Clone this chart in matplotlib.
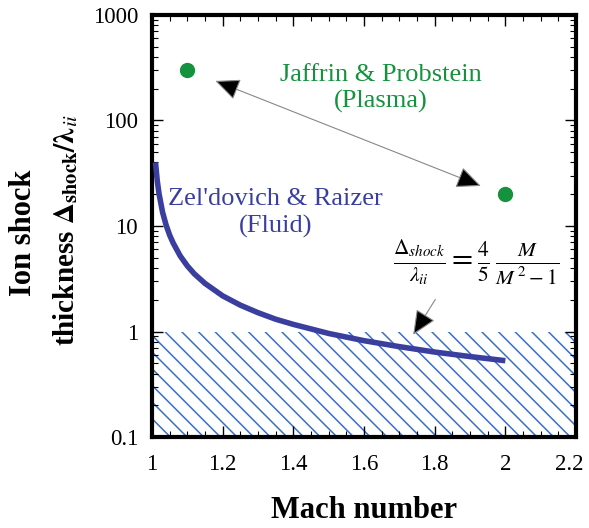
import matplotlib
matplotlib.use("Agg")
import matplotlib.pyplot as plt
import matplotlib.transforms as mtransforms
from matplotlib.patches import FancyArrowPatch
from matplotlib.ticker import MultipleLocator, LogLocator, NullFormatter, FixedLocator, FixedFormatter

plt.rcParams['font.family'] = ['Liberation Serif', 'DejaVu Serif']
plt.rcParams['mathtext.fontset'] = 'stix'
plt.rcParams['hatch.linewidth'] = 1.1

# Fluid curve (Zel'dovich & Raizer)
mach = [1.010, 1.015, 1.02, 1.03, 1.04, 1.05, 1.06, 1.08, 1.10, 1.12, 1.15, 1.20,
        1.25, 1.30, 1.35, 1.40, 1.50, 1.60, 1.70, 1.80, 1.90, 2.00]
thick = [40.0, 26.8, 20.2, 13.5, 10.2, 8.2, 6.9, 5.2, 4.19, 3.52, 2.86, 2.18,
         1.78, 1.51, 1.31, 1.17, 0.96, 0.82, 0.72, 0.64, 0.58, 0.53]

# Plasma points (Jaffrin & Probstein)
plasma_m = [1.10, 2.00]
plasma_t = [300.0, 20.0]

# hatched region
hatch_x = [1.0, 2.2]
hatch_top = 1.0
hatch_bot = 0.1

xticks = [1, 1.2, 1.4, 1.6, 1.8, 2, 2.2]
xticklabels = ['1', '1.2', '1.4', '1.6', '1.8', '2', '2.2']
yticks = [0.1, 1, 10, 100, 1000]
yticklabels = ['0.1', '1', '10', '100', '1000']

blue = '#3a3f9f'
green = '#15923d'
hatch_blue = '#3a6fc8'

fig = plt.figure(figsize=(5.89, 5.28), dpi=100)
ax = fig.add_axes([0.258, 0.172, 0.720, 0.800])

ax.fill_between(hatch_x, [hatch_bot]*2, [hatch_top]*2, facecolor='none',
                edgecolor=hatch_blue, hatch='\\\\', linewidth=0, zorder=1)
ax.plot(mach, thick, color=blue, lw=4, solid_capstyle='butt', zorder=3)
ax.plot(plasma_m, plasma_t, 'o', color=green, ms=10, zorder=4, linestyle='none')

ax.set_yscale('log')
ax.set_xlim(1, 2.2)
ax.set_ylim(0.1, 1000)

ax.xaxis.set_major_locator(FixedLocator(xticks))
ax.xaxis.set_major_formatter(FixedFormatter(xticklabels))
ax.xaxis.set_minor_locator(MultipleLocator(0.05))
ax.yaxis.set_major_locator(FixedLocator(yticks))
ax.yaxis.set_major_formatter(FixedFormatter(yticklabels))
ax.yaxis.set_minor_locator(LogLocator(base=10, subs=range(2, 10)))
ax.yaxis.set_minor_formatter(NullFormatter())

ax.tick_params(which='both', direction='in', top=True, right=True, labelsize=16.5)
ax.tick_params(which='major', length=8, width=1.0, pad=10)
ax.tick_params(axis='x', which='major', pad=12)
ax.tick_params(which='minor', length=4.5, width=0.8)
for s in ax.spines.values():
    s.set_linewidth(3)

# nudge the last x tick label so it stays inside the figure
last = ax.get_xticklabels()[-1]
last.set_transform(last.get_transform() + mtransforms.ScaledTranslation(-5/72, 0, fig.dpi_scale_trans))

# double-headed arrow between plasma points
arr = FancyArrowPatch((1.172, 242), (1.938, 23.4), arrowstyle='<|-|>,head_length=0.9,head_width=0.4',
                      mutation_scale=17, facecolor='black', edgecolor='#888888', lw=0.8, zorder=5)
ax.add_patch(arr)

ax.text(1.648, 200, 'Jaffrin & Probstein\n(Plasma)', color=green, fontsize=19,
        ha='center', va='center', linespacing=1.25)
ax.text(1.349, 13.3, "Zel'dovich & Raizer\n(Fluid)", color=blue, fontsize=19,
        ha='center', va='center', linespacing=1.25)
ax.text(1.918, 4.5, r'$\frac{\Delta_{shock}}{\lambda_{ii}} = \frac{4}{5}\,\frac{M}{M^{\,2}-1}$',
        fontsize=22, ha='center', va='center')

arr2 = FancyArrowPatch((1.806, 2.12), (1.735, 0.887), arrowstyle='-|>,head_length=0.9,head_width=0.4',
                       mutation_scale=17, facecolor='black', edgecolor='#888888', lw=0.8, zorder=5)
ax.add_patch(arr2)

ax.set_xlabel('Mach number', fontsize=22, fontweight='bold', labelpad=15)
fig.text(0.040, 0.56, 'Ion shock', rotation=90, fontsize=22, fontweight='bold',
         ha='center', va='center')
fig.text(0.112, 0.565, r'thickness $\mathbf{\Delta}_{\mathbf{shock}}\mathbf{/\lambda}_{ii}$', rotation=90,
         fontsize=21, fontweight='bold', ha='center', va='center')

fig.savefig('out.png', dpi=100)
